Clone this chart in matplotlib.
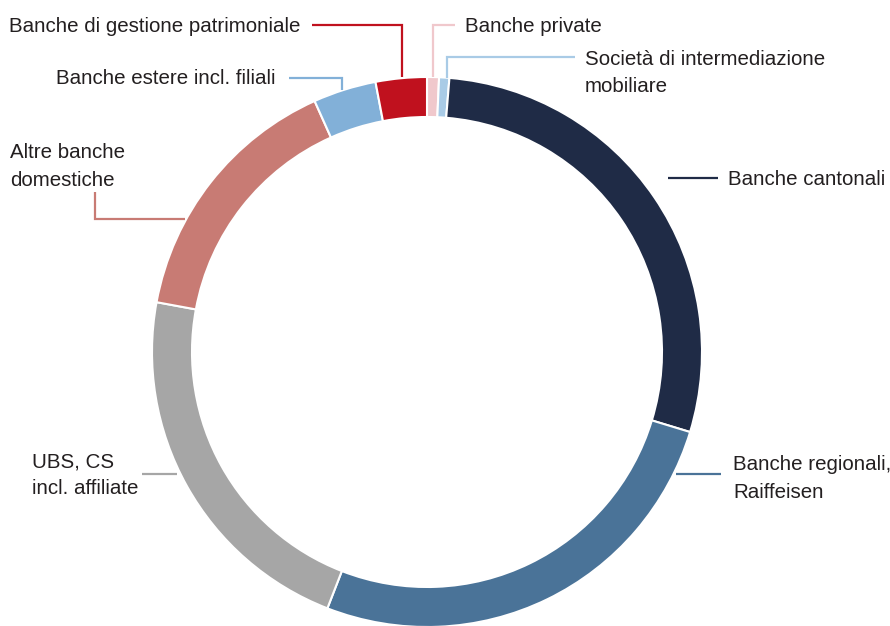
import matplotlib.pyplot as plt

# quote per gruppo di banche (%), in senso orario dalle ore 12
categorie = [
    "Banche private",
    "Società di intermediazione\nmobiliare",
    "Banche cantonali",
    "Banche regionali,\nRaiffeisen",
    "UBS, CS\nincl. affiliate",
    "Altre banche\ndomestiche",
    "Banche estere incl. filiali",
    "Banche di gestione patrimoniale",
]
quote = [0.7, 0.6, 28.4, 26.2, 22.0, 15.4, 3.7, 3.0]
colori = ["#f0c8cc", "#a9cbe6", "#1f2b46", "#4a7398",
          "#a6a6a6", "#c87b74", "#82b0d8", "#c0111e"]

W, H = 890, 626
CX, CY, R, RING = 427, 352, 275, 40

# layout delle etichette (pixel, y dall'alto): testo x, prima baseline, linea guida
layout = [
    (465, 32, "left", [(433, 77), (433, 25), (455, 25)]),
    (585, 65, "left", [(447, 78), (447, 57), (575, 57)]),
    (728, 185, "left", [(668, 178), (718, 178)]),
    (733, 470, "left", [(676, 474), (721, 474)]),
    (32, 467, "left", [(142, 474), (177, 474)]),
    (10, 158, "left", [(95, 192), (95, 219), (185, 219)]),
    (276, 84, "right", [(289, 78), (342, 78), (342, 90)]),
    (300, 32, "right", [(312, 25), (402, 25), (402, 77)]),
]

plt.rcParams["font.family"] = ["Liberation Sans", "DejaVu Sans"]

fig = plt.figure(figsize=(W / 100, H / 100), dpi=100)
ax = fig.add_axes([0, 0, 1, 1])

ax.pie(quote, colors=colori, startangle=90, counterclock=False,
       center=(CX, H - CY), radius=R, frame=True,
       wedgeprops=dict(width=RING, edgecolor="white", linewidth=1.5))
ax.set_xlim(0, W)
ax.set_ylim(0, H)
ax.set_aspect("equal")
ax.axis("off")

for lab, col, (tx, ty, ha, guida) in zip(categorie, colori, layout):
    xs = [p[0] for p in guida]
    ys = [H - p[1] for p in guida]
    ax.plot(xs, ys, color=col, lw=1.6, solid_capstyle="butt",
            solid_joinstyle="miter")
    for i, riga in enumerate(lab.split("\n")):
        ax.text(tx, H - (ty + 27.5 * i), riga, ha=ha, va="baseline",
                fontsize=14.8, color="#231f20")

fig.savefig("out.png", dpi=100)
